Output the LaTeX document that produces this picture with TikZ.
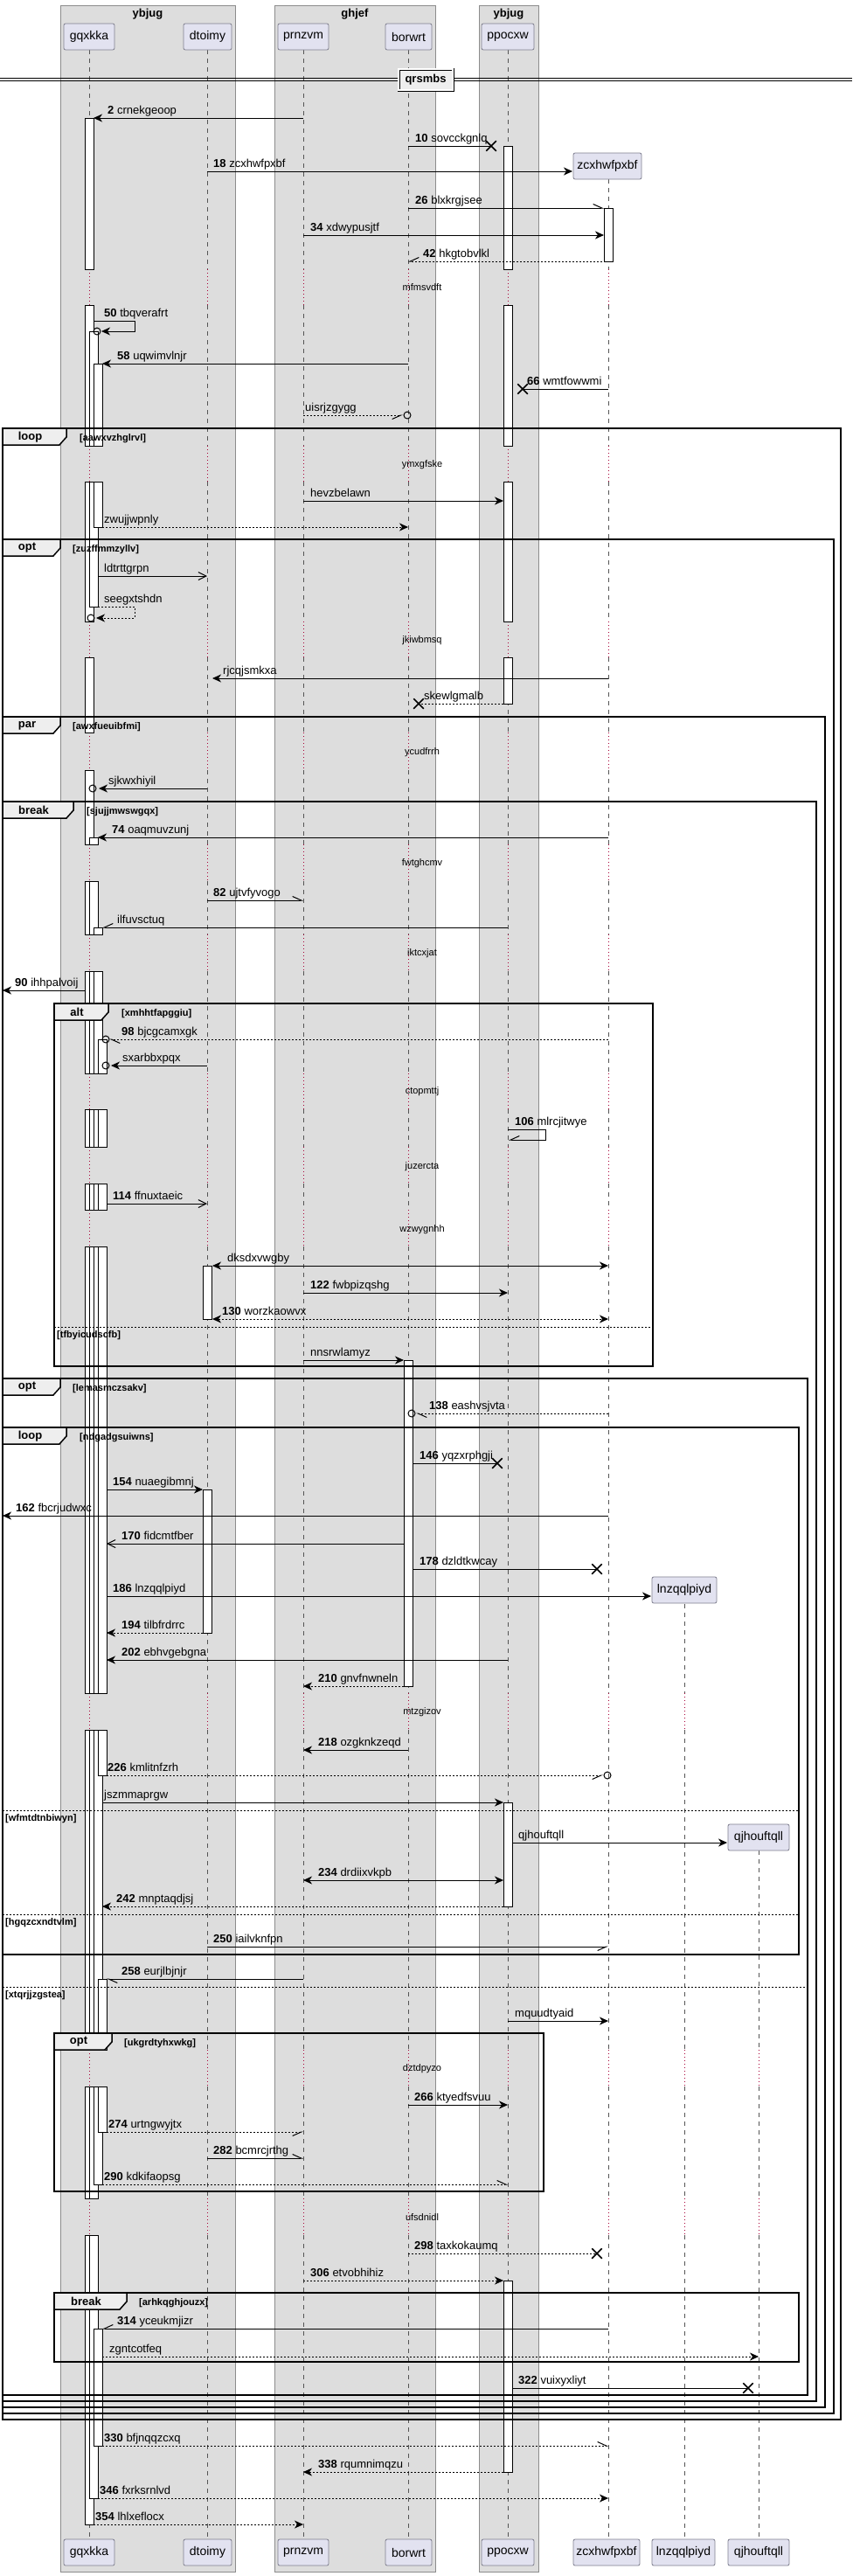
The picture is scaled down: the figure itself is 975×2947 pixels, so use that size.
\documentclass[tikz,border=0pt]{standalone}
\usepackage{fontspec}
\setmainfont{Liberation Sans}
\usetikzlibrary{arrows.meta,shapes.misc}
\definecolor{grpfill}{HTML}{DDDDDD}
\definecolor{grpline}{HTML}{8C8C8C}
\definecolor{partfill}{HTML}{E2E2F0}
\definecolor{partline}{HTML}{7F7F8F}
\definecolor{delayred}{HTML}{A80036}
\definecolor{tabfill}{HTML}{EEEEEE}
\definecolor{lifegray}{HTML}{555555}
\newcommand\fmsg{\fontsize{13}{15}\selectfont}
\newcommand\fpart{\fontsize{14}{16}\selectfont}
\newcommand\fgrp{\fontsize{13}{15}\selectfont\bfseries}
\newcommand\fcond{\fontsize{11}{13}\selectfont\bfseries}
\newcommand\fdelay{\fontsize{11}{13}\selectfont}
\tikzset{
  lbl/.style={anchor=base west,inner sep=0pt,font=\fmsg,yshift=5pt},
  msg/.style={draw=black,line width=1pt},
  dmsg/.style={draw=black,line width=1pt,dash pattern=on 2pt off 2pt},
  tipF/.style={-{Stealth[length=10pt,width=9pt,inset=3pt]}},
  tipFF/.style={{Stealth[length=10pt,width=9pt,inset=3pt]}-{Stealth[length=10pt,width=9pt,inset=3pt]}},
  tipV/.style={-{Straight Barb[length=9pt,width=9pt]}},
  rU/.style={-{Straight Barb[length=10pt,width=9pt,harpoon]}},
  rD/.style={-{Straight Barb[length=10pt,width=9pt,harpoon,swap]}},
  lU/.style={-{Straight Barb[length=10pt,width=9pt,harpoon,swap]}},
  lD/.style={-{Straight Barb[length=10pt,width=9pt,harpoon]}},
  xmark/.style={draw=black,cross out,line width=1.5pt,minimum size=10pt,inner sep=0pt},
  ocirc/.style={draw=black,circle,line width=1pt,minimum size=8pt,inner sep=0pt},
  lifeline/.style={draw=lifegray,line width=0.8pt,dash pattern=on 5pt off 5pt},
  delayline/.style={draw=delayred,line width=1pt,dash pattern=on 1pt off 3pt},
  actbar/.style={draw=black,fill=white,line width=1pt},
  frameline/.style={draw=black,line width=1.5pt},
  elseline/.style={draw=black,line width=1pt,dash pattern=on 2pt off 2pt},
  grpbox/.style={draw=grpline,fill=grpfill,line width=0.8pt},
  partbox/.style={draw=partline,fill=partfill,rounded corners=2pt,font=\fpart,inner sep=0pt,minimum height=30pt,line width=0.8pt},
  kwtxt/.style={font=\fgrp,inner sep=0pt},
  condtxt/.style={font=\fcond,anchor=base west,inner sep=0pt},
  delaytxt/.style={font=\fdelay,inner sep=0pt},
}
\newcommand\SeqMsg[7]{%
  \coordinate (#1s) at (#2,#4);
  \coordinate (#1e) at (#3,#4);
  \draw[#5] (#1s) -- (#1e);
  \node[lbl] (#1l) at (#6,#4) {#7};}
\newcommand\ActBar[3]{\draw[actbar] (#1,#2) rectangle ({#1+10},#3);}
\newcommand\SeqFrame[9]{%
  \draw[frameline] (#2,#3) rectangle (#4,#5);
  \draw[frameline,fill=tabfill] (#2,#3) -- ({#2+#7},#3) -- ({#2+#7},{#3+10}) -- ({#2+#7-8},{#3+19}) -- (#2,{#3+19}) -- cycle;
  \node[kwtxt] (#1k) at ({#2+(#7-8)/2-1},{#3+10}) {#6};
  \node[condtxt] (#1c) at (#9,{#3+14}) {#8};}
\newcommand\SeqElse[5]{%
  \coordinate (#1a) at (#2,#4);
  \coordinate (#1b) at (#3,#4);
  \draw[elseline] (#1a) -- (#1b);
  \node[condtxt] (#1t) at ({#2+3},{#4+12}) {#5};}
\def\SolidList{57/308,349/510,551/711,752/838,881/966,1008/1069,1111/1228,1269/1312,1354/1384,1426/1937,1979/2345,2387/2515,2557/2905}
\def\DelayList{308/349,510/551,711/752,838/881,966/1008,1069/1111,1228/1269,1312/1354,1384/1426,1937/1979,2345/2387,2515/2557}
\begin{document}
\begin{tikzpicture}[x=1pt,y=-1pt]
\useasboundingbox (0,0) rectangle (975,2947);
\fill[white] (0,0) rectangle (975,2947);
% groups
\draw[grpbox] (69,6) rectangle (269,2942);
\draw[grpbox] (314,6) rectangle (498,2942);
\draw[grpbox] (548,6) rectangle (616,2942);
\node[font=\fgrp] (g1) at (169,16) {ybjug};
\node[font=\fgrp] (g2) at (406,16) {ghjef};
\node[font=\fgrp] (g3) at (582,16) {ybjug};
% lifelines
\foreach \lx in {102,237,347,467,581} {
  \foreach \a/\b in \SolidList { \draw[lifeline] (\lx,\a) -- (\lx,\b); }
  \foreach \a/\b in \DelayList { \draw[delayline] (\lx,\a) -- (\lx,\b); }
}
\foreach \a/\b in {205/308,349/510,551/711,752/838,881/966,1008/1069,1111/1228,1269/1312,1354/1384,1426/1937,1979/2345,2387/2515,2557/2905} { \draw[lifeline] (696,\a) -- (696,\b); }
\foreach \a/\b in \DelayList { \draw[delayline] (696,\a) -- (696,\b); }
\foreach \a/\b in {1835/1937,1979/2345,2387/2515,2557/2905} { \draw[lifeline] (783,\a) -- (783,\b); }
\foreach \a/\b in {1937/1979,2345/2387,2515/2557} { \draw[delayline] (783,\a) -- (783,\b); }
\foreach \a/\b in {2117/2345,2387/2515,2557/2905} { \draw[lifeline] (868,\a) -- (868,\b); }
\foreach \a/\b in {2345/2387,2515/2557} { \draw[delayline] (868,\a) -- (868,\b); }
% delay texts
\node[delaytxt] (d1) at (483,329) {mfmsvdft};
\node[delaytxt] (d2) at (483,532) {ymxgfske};
\node[delaytxt] (d3) at (483,733) {jkiwbmsq};
\node[delaytxt] (d4) at (483,861) {ycudfrrh};
\node[delaytxt] (d5) at (483,988) {fwtghcmv};
\node[delaytxt] (d6) at (483,1091) {iktcxjat};
\node[delaytxt] (d7) at (483,1249) {ctopmttj};
\node[delaytxt] (d8) at (483,1335) {juzercta};
\node[delaytxt] (d9) at (483,1407) {wzwygnhh};
\node[delaytxt] (d10) at (483,1959) {mtzgizov};
\node[delaytxt] (d11) at (483,2367) {dztdpyzo};
\node[delaytxt] (d12) at (483,2537) {ufsdnidl};
% divider
\draw[line width=1pt] (0,89) -- (975,89);
\draw[line width=1pt] (0,92) -- (975,92);
\node[draw,double,double distance=1.2pt,line width=0.9pt,fill=tabfill,font=\fgrp,minimum width=62pt,minimum height=24pt,inner sep=0pt] (div) at (487,91) {qrsmbs};
% activation bars
\foreach \a/\b in {135/308,349/510,551/711,752/838,881/966,1008/1069,1111/1228,1269/1312,1354/1384,1426/1937,1979/2345,2387/2515,2557/2888} { \ActBar{97}{\a}{\b} }
\foreach \a/\b in {379/510,551/694,958/966,1008/1069,1111/1228,1269/1312,1354/1384,1426/1937,1979/2345,2387/2515,2557/2858} { \ActBar{102}{\a}{\b} }
\foreach \a/\b in {416/510,551/603,1061/1069,1111/1228,1269/1312,1354/1384,1426/1937,1979/2345,2387/2499,2664/2798} { \ActBar{107}{\a}{\b} }
\foreach \a/\b in {1189/1228,1269/1312,1354/1384,1426/1937,1979/2031,2264/2345,2387/2439} { \ActBar{112}{\a}{\b} }
\foreach \a/\b in {167/308,349/510,551/711,752/805,2062/2181,2609/2828} { \ActBar{576}{\a}{\b} }
\ActBar{691}{238}{299}
\ActBar{232}{1448}{1509}
\ActBar{232}{1704}{1868}
\ActBar{462}{1556}{1929}
% frames
\SeqFrame{f1}{3}{490}{962}{2768}{loop}{73}{[aawxvzhglrvl]}{91}
\SeqFrame{f2}{3}{617}{954}{2761}{opt}{66}{[zuzffmmzyllv]}{83}
\SeqFrame{f3}{3}{820}{944}{2754}{par}{66}{[awxfueuibfmi]}{83}
\SeqFrame{f4}{3}{917}{934}{2747}{break}{81}{[sjujjmwswgqx]}{99}
\SeqFrame{f5}{62}{1148}{747}{1563}{alt}{62}{[xmhhtfapggiu]}{139}
\SeqElse{e1}{62}{747}{1518}{[tfbyicudscfb]}
\SeqFrame{f6}{3}{1577}{924}{2740}{opt}{66}{[lemasmczsakv]}{83}
\SeqElse{e2}{3}{924}{2273}{[xtqrjjzgstea]}
\SeqFrame{f7}{3}{1633}{914}{2236}{loop}{73}{[ndgadgsuiwns]}{91}
\SeqElse{e3}{3}{914}{2071}{[wfmtdtnbiwyn]}
\SeqElse{e4}{3}{914}{2190}{[hgqzcxndtvlm]}
\SeqFrame{f8}{62}{2326}{622}{2507}{opt}{66}{[ukgrdtyhxwkg]}{142}
\SeqFrame{f9}{62}{2623}{914}{2702}{break}{83}{[arhkqghjouzx]}{159}
% messages
\SeqMsg{m2}{347}{107}{135}{msg,tipF}{123}{\textbf{2} crnekgeoop}
\node[xmark] (m10x) at (562,167) {};
\SeqMsg{m10}{467}{562}{167}{msg}{475}{\textbf{10} sovcckgnlq}
\SeqMsg{m18}{237}{655}{196}{msg,tipF}{244}{\textbf{18} zcxhwfpxbf}
\SeqMsg{m26}{467}{691}{238}{msg,rU}{475}{\textbf{26} blxkrgjsee}
\SeqMsg{m34}{347}{691}{269}{msg,tipF}{355}{\textbf{34} xdwypusjtf}
\SeqMsg{m42}{701}{467}{299}{dmsg,lU}{484}{\textbf{42} hkgtobvlkl}
\coordinate (m50s) at (107,367);
\coordinate (m50e) at (116,379);
\draw[msg,tipF] (m50s) -- (154,367) -- (154,379) -- (m50e);
\node[ocirc] (m50o) at (111,379) {};
\node[lbl] (m50l) at (119,367) {\textbf{50} tbqverafrt};
\SeqMsg{m58}{467}{117}{416}{msg,tipF}{134}{\textbf{58} uqwimvlnjr}
\node[xmark] (m66x) at (598,445) {};
\SeqMsg{m66}{696}{598}{445}{msg}{603}{\textbf{66} wmtfowwmi}
\node[ocirc] (u1o) at (466,475) {};
\SeqMsg{u1}{347}{461}{475}{dmsg,rD}{349}{uisrjzgygg}
\SeqMsg{u2}{347}{576}{573}{msg,tipF}{355}{hevzbelawn}
\SeqMsg{u3}{117}{467}{603}{dmsg,tipF}{119}{zwujjwpnly}
\SeqMsg{u4}{112}{237}{659}{msg,tipV}{119}{ldtrttgrpn}
\coordinate (u5s) at (112,694);
\coordinate (u5e) at (110,707);
\draw[dmsg,tipF] (u5s) -- (154,694) -- (154,707) -- (u5e);
\node[ocirc] (u5o) at (104,707) {};
\node[lbl] (u5l) at (119,694) {seegxtshdn};
\SeqMsg{u6}{696}{243}{776}{msg,tipF}{255}{rjcqjsmkxa}
\node[xmark] (u7x) at (479,805) {};
\SeqMsg{u7}{576}{479}{805}{dmsg}{485}{skewlgmalb}
\node[ocirc] (u8o) at (106,902) {};
\SeqMsg{u8}{237}{113}{902}{msg,tipF}{124}{sjkwxhiyil}
\SeqMsg{m74}{696}{112}{958}{msg,tipF}{128}{\textbf{74} oaqmuvzunj}
\SeqMsg{m82}{237}{347}{1030}{msg,rU}{244}{\textbf{82} ujtvfyvogo}
\SeqMsg{u9}{581}{117}{1061}{msg,lU}{134}{ilfuvsctuq}
\SeqMsg{m90}{97}{3}{1133}{msg,tipF}{17}{\textbf{90} ihhpalvoij}
\node[ocirc] (m98o) at (121,1189) {};
\SeqMsg{m98}{696}{125}{1189}{dmsg,lD}{139}{\textbf{98} bjcgcamxgk}
\node[ocirc] (u10o) at (121,1219) {};
\SeqMsg{u10}{237}{127}{1219}{msg,tipF}{140}{sxarbbxpqx}
\coordinate (m106s) at (581,1292);
\coordinate (m106e) at (582,1304);
\draw[msg,lU] (m106s) -- (624,1292) -- (624,1304) -- (m106e);
\node[lbl] (m106l) at (589,1292) {\textbf{106} mlrcjitwye};
\SeqMsg{m114}{122}{237}{1377}{msg,tipV}{129}{\textbf{114} ffnuxtaeic}
\SeqMsg{u11}{243}{696}{1448}{msg,tipFF}{260}{dksdxvwgby}
\SeqMsg{m122}{347}{581}{1479}{msg,tipF}{355}{\textbf{122} fwbpizqshg}
\SeqMsg{m130}{243}{696}{1509}{dmsg,tipFF}{254}{\textbf{130} worzkaowvx}
\SeqMsg{u12}{347}{462}{1556}{msg,tipF}{355}{nnsrwlamyz}
\node[ocirc] (m138o) at (471,1617) {};
\SeqMsg{m138}{696}{476}{1617}{dmsg,lD}{491}{\textbf{138} eashvsjvta}
\node[xmark] (m146x) at (569,1674) {};
\SeqMsg{m146}{472}{569}{1674}{msg}{480}{\textbf{146} yqzxrphgji}
\SeqMsg{m154}{122}{232}{1704}{msg,tipF}{129}{\textbf{154} nuaegibmnj}
\SeqMsg{m162}{696}{3}{1734}{msg,tipF}{18}{\textbf{162} fbcrjudwxc}
\SeqMsg{m170}{462}{122}{1766}{msg,tipV}{139}{\textbf{170} fidcmtfber}
\node[xmark] (m178x) at (683,1795) {};
\SeqMsg{m178}{472}{683}{1795}{msg}{480}{\textbf{178} dzldtkwcay}
\SeqMsg{m186}{122}{745}{1826}{msg,tipF}{129}{\textbf{186} lnzqqlpiyd}
\SeqMsg{m194}{232}{122}{1868}{dmsg,tipF}{139}{\textbf{194} tilbfrdrrc}
\SeqMsg{m202}{581}{122}{1899}{msg,tipF}{139}{\textbf{202} ebhvgebgna}
\SeqMsg{m210}{462}{347}{1929}{dmsg,tipF}{364}{\textbf{210} gnvfnwneln}
\SeqMsg{m218}{467}{347}{2002}{msg,tipF}{364}{\textbf{218} ozgknkzeqd}
\node[ocirc] (m226o) at (695,2031) {};
\SeqMsg{m226}{122}{690}{2031}{dmsg,rD}{123}{\textbf{226} kmlitnfzrh}
\SeqMsg{u13}{117}{576}{2062}{msg,tipF}{119}{jszmmaprgw}
\SeqMsg{u14}{586}{832}{2108}{msg,tipF}{593}{qjhouftqll}
\SeqMsg{m234}{347}{576}{2151}{msg,tipFF}{364}{\textbf{234} drdiixvkpb}
\SeqMsg{m242}{576}{117}{2181}{dmsg,tipF}{133}{\textbf{242} mnptaqdjsj}
\SeqMsg{m250}{237}{696}{2227}{msg,rD}{244}{\textbf{250} iailvknfpn}
\SeqMsg{m258}{347}{122}{2264}{msg,lD}{139}{\textbf{258} eurjlbjnjr}
\SeqMsg{u15}{581}{696}{2312}{msg,tipF}{589}{mquudtyaid}
\SeqMsg{m266}{467}{581}{2408}{msg,tipF}{474}{\textbf{266} ktyedfsvuu}
\SeqMsg{m274}{122}{347}{2439}{dmsg,rD}{124}{\textbf{274} urtngwyjtx}
\SeqMsg{m282}{237}{347}{2469}{msg,rU}{244}{\textbf{282} bcmrcjrthg}
\SeqMsg{m290}{117}{581}{2499}{dmsg,rU}{119}{\textbf{290} kdkifaopsg}
\node[xmark] (m298x) at (683,2578) {};
\SeqMsg{m298}{467}{683}{2578}{dmsg}{474}{\textbf{298} taxkokaumq}
\SeqMsg{m306}{347}{576}{2609}{dmsg,tipF}{355}{\textbf{306} etvobhihiz}
\SeqMsg{m314}{696}{117}{2664}{msg,lU}{134}{\textbf{314} yceukmjizr}
\SeqMsg{u16}{117}{868}{2696}{dmsg,tipF}{125}{zgntcotfeq}
\node[xmark] (m322x) at (856,2732) {};
\SeqMsg{m322}{586}{856}{2732}{msg}{593}{\textbf{322} vuixyxliyt}
\SeqMsg{m330}{117}{696}{2798}{dmsg,rU}{119}{\textbf{330} bfjnqqzcxq}
\SeqMsg{m338}{576}{347}{2828}{dmsg,tipF}{364}{\textbf{338} rqumnimqzu}
\SeqMsg{m346}{112}{696}{2858}{dmsg,tipF}{114}{\textbf{346} fxrksrnlvd}
\SeqMsg{m354}{107}{347}{2888}{dmsg,tipF}{109}{\textbf{354} lhlxeflocx}
% participants
\node[partbox,minimum width=58pt] (pA) at (102,42) {gqxkka};
\node[partbox,minimum width=55pt] (pB) at (237.5,42) {dtoimy};
\node[partbox,minimum width=58pt] (pC) at (347,42) {prnzvm};
\node[partbox,minimum width=53pt] (pD) at (467.5,42) {borwrt};
\node[partbox,minimum width=60pt] (pE) at (581,42) {ppocxw};
\node[partbox,minimum width=78pt] (pF) at (695,190) {zcxhwfpxbf};
\node[partbox,minimum width=74pt] (pG) at (783,1819) {lnzqqlpiyd};
\node[partbox,minimum width=70pt] (pH) at (868,2102) {qjhouftqll};
\node[partbox,minimum width=58pt] (qA) at (102,2920) {gqxkka};
\node[partbox,minimum width=55pt] (qB) at (237.5,2920) {dtoimy};
\node[partbox,minimum width=58pt] (qC) at (347,2920) {prnzvm};
\node[partbox,minimum width=53pt] (qD) at (467.5,2920) {borwrt};
\node[partbox,minimum width=60pt] (qE) at (581,2920) {ppocxw};
\node[partbox,minimum width=76pt] (qF) at (694,2920) {zcxhwfpxbf};
\node[partbox,minimum width=72pt] (qG) at (782,2920) {lnzqqlpiyd};
\node[partbox,minimum width=70pt] (qH) at (868,2920) {qjhouftqll};
\end{tikzpicture}
\end{document}
